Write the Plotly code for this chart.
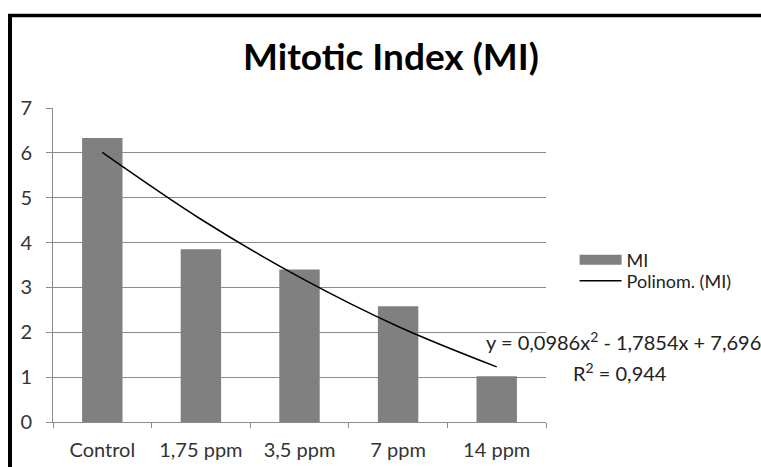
import plotly.graph_objects as go

# data
categories = ["Control", "1,75 ppm", "3,5 ppm", "7 ppm", "14 ppm"]
mi_values = [6.33, 3.85, 3.40, 2.58, 1.02]
# polynomial trendline, read at each category
trend_values = [6.01, 4.52, 3.23, 2.13, 1.23]

equation = "y = 0,0986x<sup>2</sup> - 1,7854x + 7,696"
r_squared = "R<sup>2</sup> = 0,944"

bar_color = "#808080"
grid_color = "#8c8c8c"
font_family = "Lato, 'Open Sans', sans-serif"

fig = go.Figure()

# bars (legend item drawn by a wide swatch trace below)
fig.add_trace(go.Bar(
    x=categories,
    y=mi_values,
    name="MI",
    marker=dict(color=bar_color, line=dict(width=0)),
    width=0.41,
    showlegend=False,
))
fig.add_trace(go.Scatter(
    x=[None], y=[None],
    mode="lines",
    name="MI",
    line=dict(color=bar_color, width=10),
    legend="legend",
))
fig.add_trace(go.Scatter(
    x=categories,
    y=trend_values,
    mode="lines",
    name="Polinom. (MI)",
    line=dict(color="black", width=1.5, shape="spline"),
    legend="legend2",
))

# equation label
fig.add_annotation(
    text=equation,
    xref="paper", yref="paper",
    x=(623 - 53) / 493, y=(422 - 341) / 314,
    xanchor="center", yanchor="middle",
    showarrow=False,
    font=dict(size=20, color="#222"),
)
fig.add_annotation(
    text=r_squared,
    xref="paper", yref="paper",
    x=(620 - 53) / 493, y=(422 - 372) / 314,
    xanchor="center", yanchor="middle",
    showarrow=False,
    font=dict(size=20, color="#222"),
)

# outer chart border (only top and left visible in the crop)
fig.add_shape(type="line", xref="paper", yref="paper",
              x0=(8 - 53) / 493, x1=1.5, y0=(422 - 15.5) / 314, y1=(422 - 15.5) / 314,
              line=dict(color="black", width=3.5))
fig.add_shape(type="line", xref="paper", yref="paper",
              x0=(10 - 53) / 493, x1=(10 - 53) / 493, y0=(422 - 14) / 314, y1=-0.5,
              line=dict(color="black", width=4))

legend_style = dict(x=1.058, xanchor="left", yanchor="middle",
                    itemwidth=42, font=dict(size=18, color="#222"),
                    bgcolor="rgba(0,0,0,0)")

fig.update_layout(
    width=761, height=467,
    margin=dict(l=53, r=215, t=108, b=45),
    paper_bgcolor="white",
    plot_bgcolor="white",
    font=dict(family=font_family, size=20, color="#333"),
    title=dict(text="<b>Mitotic Index (MI)</b>", x=391 / 761, xanchor="center",
               y=1 - 57 / 467, yanchor="middle",
               font=dict(size=37, color="black")),
    legend=dict(y=(422 - 260) / 314, **legend_style),
    legend2=dict(y=(422 - 281) / 314, **legend_style),
    showlegend=True,
    bargap=0.59,
)
fig.update_xaxes(
    type="category",
    showline=True, linecolor=grid_color, linewidth=1,
    ticks="outside", tickson="boundaries", ticklen=5, tickcolor=grid_color,
    showgrid=False,
    automargin=False,
    ticklabelstandoff=10,
    tickfont=dict(size=20, color="#333"),
)
fig.update_yaxes(
    range=[0, 7], dtick=1,
    showgrid=True, gridcolor=grid_color, gridwidth=1,
    showline=True, linecolor=grid_color, linewidth=1,
    ticks="outside", ticklen=6, tickcolor=grid_color,
    zeroline=False,
    automargin=False,
    ticklabelstandoff=10,
    tickfont=dict(size=20, color="#333"),
)

fig.write_html("out.html", config={"displayModeBar": False},
               post_script="document.body.style.margin='0';")
